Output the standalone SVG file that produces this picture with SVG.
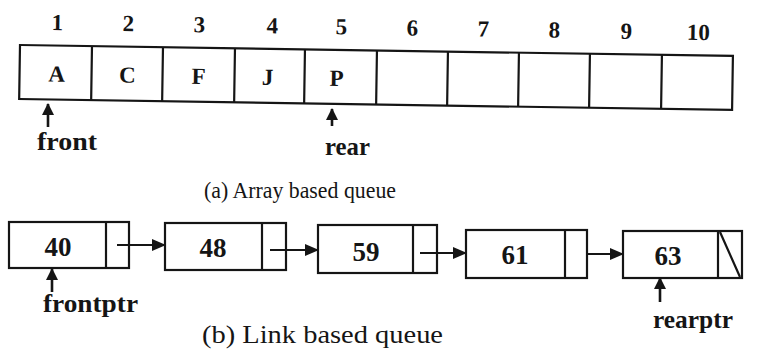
<svg xmlns="http://www.w3.org/2000/svg" width="766" height="357" viewBox="0 0 766 357">
<style>
.ln{fill:none;stroke:#151515;stroke-width:2.2}
.bx{fill:#fff;stroke:#151515;stroke-width:2.2}
.t{font-family:'Liberation Serif', 'Times New Roman', serif;fill:#151515}
.b{font-weight:bold}
.c{text-anchor:middle}
.arr{stroke:#151515;stroke-width:2;fill:none;marker-end:url(#ah)}
.up{stroke:#151515;stroke-width:2.6;fill:none;marker-end:url(#uh)}
</style>
<defs>
<marker id="ah" markerUnits="userSpaceOnUse" markerWidth="14" markerHeight="12" refX="13" refY="6" orient="auto">
<path d="M0,0 L14,6 L0,12 Z" fill="#151515"/>
</marker>
<marker id="uh" markerUnits="userSpaceOnUse" markerWidth="12" markerHeight="12" refX="11" refY="6" orient="auto">
<path d="M0,0 L12,6 L0,12 Z" fill="#151515"/>
</marker>
</defs>
<rect width="766" height="357" fill="#fff"/>

<g id="array" transform="rotate(0.88 20 45)">
<rect class="bx" x="20" y="45" width="713" height="54"/>
<path class="ln" d="M92,45V99M163,45V99M235,45V99M305,45V99M377,45V99M448,45V99M519,45V99M590,45V99M662,45V99"/>
<g class="t b c" font-size="23">
<text x="57" y="29.5">1</text>
<text x="128" y="29.5">2</text>
<text x="199" y="29.5">3</text>
<text x="272" y="29.5">4</text>
<text x="341" y="29.5">5</text>
<text x="412" y="29.5">6</text>
<text x="483" y="29.5">7</text>
<text x="554" y="29.5">8</text>
<text x="626" y="29.5">9</text>
<text x="698" y="29.5">10</text>
</g>
<g class="t b c" font-size="23">
<text x="57" y="81">A</text>
<text x="128" y="81">C</text>
<text x="199" y="81">F</text>
<text x="268" y="81">J</text>
<text x="337" y="81">P</text>
</g>
</g>

<g id="front">
<path class="up" d="M48,127V104"/>
<text class="t b" font-size="25" x="37" y="150" textLength="60" lengthAdjust="spacingAndGlyphs">front</text>
</g>
<g id="rear">
<path class="up" d="M332,126V109"/>
<text class="t b" font-size="25" x="325" y="155" textLength="45" lengthAdjust="spacingAndGlyphs">rear</text>
</g>
<text id="caption-a" class="t" font-size="23" x="204" y="198" textLength="192" lengthAdjust="spacingAndGlyphs">(a) Array based queue</text>

<g id="n40">
<rect class="bx" x="9" y="222" width="120" height="46"/>
<path class="ln" d="M106,222V268"/>
<text class="t b c" font-size="27" x="58" y="256">40</text>
</g>
<g id="n48">
<rect class="bx" x="165" y="223" width="121" height="47"/>
<path class="ln" d="M262,223V270"/>
<text class="t b c" font-size="27" x="213" y="257">48</text>
</g>
<g id="n59">
<rect class="bx" x="318" y="225" width="119" height="48"/>
<path class="ln" d="M413,225V273"/>
<text class="t b c" font-size="27" x="366" y="261">59</text>
</g>
<g id="n61">
<rect class="bx" x="466" y="230" width="121" height="48"/>
<path class="ln" d="M565,230V278"/>
<text class="t b c" font-size="27" x="515" y="264">61</text>
</g>
<g id="n63">
<rect class="bx" x="623" y="231" width="119" height="47"/>
<path class="ln" d="M718,231V278M720,232L740,277"/>
<text class="t b c" font-size="27" x="668" y="265">63</text>
</g>

<g id="connectors">
<path class="arr" d="M117,245H165"/>
<path class="arr" d="M270,250H318"/>
<path class="arr" d="M420,253H466"/>
<path class="arr" d="M588,254H623"/>
</g>

<g id="frontptr">
<path class="up" d="M52,292V269"/>
<text class="t b" font-size="25" x="43" y="312" textLength="95" lengthAdjust="spacingAndGlyphs">frontptr</text>
</g>
<g id="rearptr">
<path class="up" d="M660,302V278"/>
<text class="t b" font-size="25" x="653" y="328" textLength="80" lengthAdjust="spacingAndGlyphs">rearptr</text>
</g>
<text id="caption-b" class="t" font-size="25" x="202" y="343" textLength="241" lengthAdjust="spacingAndGlyphs">(b) Link based queue</text>
</svg>
